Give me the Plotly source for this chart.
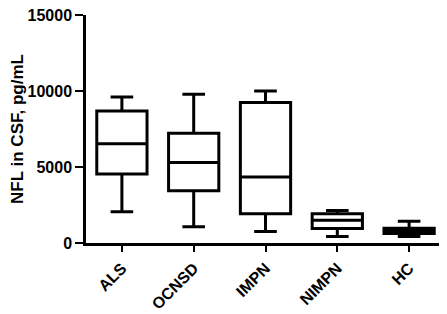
import plotly.graph_objects as go

categories = ["ALS", "OCNSD", "IMPN", "NIMPN", "HC"]
lower = [2050, 1070, 750, 420, 430]
q1 = [4540, 3430, 1930, 960, 620]
median = [6530, 5290, 4340, 1500, 800]
q3 = [8680, 7220, 9250, 1930, 970]
upper = [9600, 9790, 10000, 2140, 1430]
y_ticks = [0, 5000, 10000, 15000]

fig = go.Figure()
fig.add_trace(go.Box(
    x=categories, q1=q1, median=median, q3=q3,
    lowerfence=lower, upperfence=upper,
    fillcolor="white", line=dict(color="black", width=3),
    width=0.7, whiskerwidth=0.45, boxpoints=False, showlegend=False,
))
fig.update_layout(
    width=439, height=306,
    margin=dict(l=78, r=2, t=7, b=71),
    plot_bgcolor="white", paper_bgcolor="white",
    font=dict(family="Arial, Liberation Sans", color="black"),
)
fig.update_xaxes(
    range=[-0.5, 4.5], showline=True, linecolor="black", linewidth=2.5,
    ticks="outside", ticklen=6, tickwidth=2, tickcolor="black",
    tickangle=-45, tickfont=dict(size=16, weight="bold", color="black"),
    ticklabelstandoff=1, ticklabeloverflow="allow", automargin=False,
    showgrid=False, zeroline=False,
)
fig.update_yaxes(
    range=[0, 15000], tickvals=y_ticks, showline=True, linecolor="black", linewidth=2.5,
    ticks="outside", ticklen=8, tickwidth=2, tickcolor="black",
    tickfont=dict(size=16, weight="bold", color="black"), showgrid=False, zeroline=False,
    ticklabeloverflow="allow", automargin=False,
    title=dict(text="NFL in CSF, pg/mL", font=dict(size=17, weight="bold"), standoff=11),
    tickformat="d",
)
fig.write_html("out.html")
